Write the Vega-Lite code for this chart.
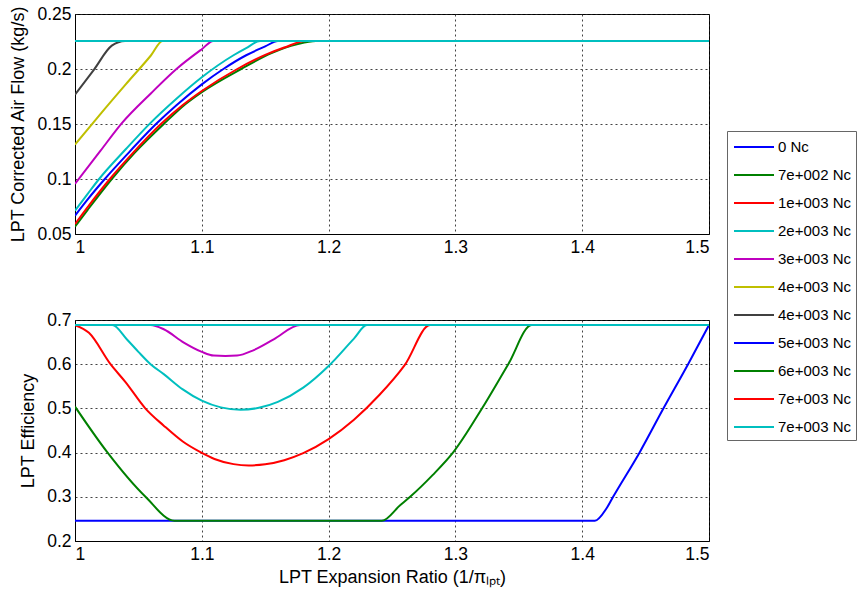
{
  "$schema": "https://vega.github.io/schema/vega-lite/v6.json",
  "background": "white",
  "padding": {"left": 9, "top": 4, "right": 2, "bottom": 2},
  "config": {
    "font": "Liberation Sans",
    "view": {"stroke": "black", "strokeWidth": 1},
    "axis": {
      "labelFont": "Liberation Sans", "labelFontSize": 17.5, "labelColor": "black",
      "titleFont": "Liberation Sans", "titleFontSize": 18, "titleFontWeight": "normal", "titleColor": "black",
      "domainColor": "black", "ticks": false, "labelPadding": 4, "titlePadding": 9,
      "gridColor": "#222222", "gridDash": [2, 3], "gridOpacity": 0.85, "gridWidth": 1
    },
    "legend": {
      "labelFont": "Liberation Sans", "labelFontSize": 15, "labelColor": "black"
    }
  },
  "datasets": {
    "d": [
      {"s": "s01", "p": "a", "x": 1.0, "y": 0.0667},
      {"s": "s01", "p": "a", "x": 1.01, "y": 0.0815},
      {"s": "s01", "p": "a", "x": 1.0235, "y": 0.1},
      {"s": "s01", "p": "a", "x": 1.04, "y": 0.121},
      {"s": "s01", "p": "a", "x": 1.0645, "y": 0.1506},
      {"s": "s01", "p": "a", "x": 1.08, "y": 0.167},
      {"s": "s01", "p": "a", "x": 1.1, "y": 0.186},
      {"s": "s01", "p": "a", "x": 1.117, "y": 0.2},
      {"s": "s01", "p": "a", "x": 1.135, "y": 0.2125},
      {"s": "s01", "p": "a", "x": 1.15, "y": 0.2205},
      {"s": "s01", "p": "a", "x": 1.16, "y": 0.2255},
      {"s": "s01", "p": "a", "x": 1.5, "y": 0.2255},
      {"s": "s02", "p": "a", "x": 1.0, "y": 0.0567},
      {"s": "s02", "p": "a", "x": 1.01, "y": 0.072},
      {"s": "s02", "p": "a", "x": 1.029, "y": 0.1},
      {"s": "s02", "p": "a", "x": 1.047, "y": 0.1238},
      {"s": "s02", "p": "a", "x": 1.0705, "y": 0.1506},
      {"s": "s02", "p": "a", "x": 1.087, "y": 0.168},
      {"s": "s02", "p": "a", "x": 1.1, "y": 0.179},
      {"s": "s02", "p": "a", "x": 1.131, "y": 0.2},
      {"s": "s02", "p": "a", "x": 1.155, "y": 0.2144},
      {"s": "s02", "p": "a", "x": 1.175, "y": 0.2224},
      {"s": "s02", "p": "a", "x": 1.19, "y": 0.2255},
      {"s": "s02", "p": "a", "x": 1.5, "y": 0.2255},
      {"s": "s03", "p": "a", "x": 1.0, "y": 0.059},
      {"s": "s03", "p": "a", "x": 1.01, "y": 0.0745},
      {"s": "s03", "p": "a", "x": 1.0275, "y": 0.1},
      {"s": "s03", "p": "a", "x": 1.045, "y": 0.1228},
      {"s": "s03", "p": "a", "x": 1.0684, "y": 0.1506},
      {"s": "s03", "p": "a", "x": 1.085, "y": 0.1672},
      {"s": "s03", "p": "a", "x": 1.1, "y": 0.18},
      {"s": "s03", "p": "a", "x": 1.128, "y": 0.2},
      {"s": "s03", "p": "a", "x": 1.15, "y": 0.2128},
      {"s": "s03", "p": "a", "x": 1.165, "y": 0.2195},
      {"s": "s03", "p": "a", "x": 1.182, "y": 0.2255},
      {"s": "s03", "p": "a", "x": 1.5, "y": 0.2255},
      {"s": "s04", "p": "a", "x": 1.0, "y": 0.0712},
      {"s": "s04", "p": "a", "x": 1.01, "y": 0.0865},
      {"s": "s04", "p": "a", "x": 1.019, "y": 0.1},
      {"s": "s04", "p": "a", "x": 1.04, "y": 0.127},
      {"s": "s04", "p": "a", "x": 1.0592, "y": 0.1506},
      {"s": "s04", "p": "a", "x": 1.08, "y": 0.173},
      {"s": "s04", "p": "a", "x": 1.1, "y": 0.1925},
      {"s": "s04", "p": "a", "x": 1.125, "y": 0.2125},
      {"s": "s04", "p": "a", "x": 1.135, "y": 0.219},
      {"s": "s04", "p": "a", "x": 1.146, "y": 0.2255},
      {"s": "s04", "p": "a", "x": 1.5, "y": 0.2255},
      {"s": "s05", "p": "a", "x": 1.0, "y": 0.0955},
      {"s": "s05", "p": "a", "x": 1.02, "y": 0.1255},
      {"s": "s05", "p": "a", "x": 1.0368, "y": 0.1506},
      {"s": "s05", "p": "a", "x": 1.06, "y": 0.178},
      {"s": "s05", "p": "a", "x": 1.08, "y": 0.2},
      {"s": "s05", "p": "a", "x": 1.1, "y": 0.218},
      {"s": "s05", "p": "a", "x": 1.109, "y": 0.2255},
      {"s": "s05", "p": "a", "x": 1.5, "y": 0.2255},
      {"s": "s06", "p": "a", "x": 1.0, "y": 0.1312},
      {"s": "s06", "p": "a", "x": 1.02, "y": 0.159},
      {"s": "s06", "p": "a", "x": 1.04, "y": 0.186},
      {"s": "s06", "p": "a", "x": 1.06, "y": 0.2125},
      {"s": "s06", "p": "a", "x": 1.069, "y": 0.2255},
      {"s": "s06", "p": "a", "x": 1.5, "y": 0.2255},
      {"s": "s07", "p": "a", "x": 1.0, "y": 0.1767},
      {"s": "s07", "p": "a", "x": 1.015, "y": 0.1995},
      {"s": "s07", "p": "a", "x": 1.029, "y": 0.2212},
      {"s": "s07", "p": "a", "x": 1.0395, "y": 0.2255},
      {"s": "s07", "p": "a", "x": 1.5, "y": 0.2255},
      {"s": "s08", "p": "a", "x": 1.0, "y": 0.2255},
      {"s": "s08", "p": "a", "x": 1.5, "y": 0.2255},
      {"s": "s09", "p": "a", "x": 1.0, "y": 0.2255},
      {"s": "s09", "p": "a", "x": 1.5, "y": 0.2255},
      {"s": "s10", "p": "a", "x": 1.0, "y": 0.2255},
      {"s": "s10", "p": "a", "x": 1.5, "y": 0.2255},
      {"s": "s11", "p": "a", "x": 1.0, "y": 0.2255},
      {"s": "s11", "p": "a", "x": 1.5, "y": 0.2255},

      {"s": "s01", "p": "b", "x": 1.0, "y": 0.2457},
      {"s": "s01", "p": "b", "x": 1.41, "y": 0.2457},
      {"s": "s01", "p": "b", "x": 1.4191, "y": 0.2734},
      {"s": "s01", "p": "b", "x": 1.4244, "y": 0.3},
      {"s": "s01", "p": "b", "x": 1.4454, "y": 0.401},
      {"s": "s01", "p": "b", "x": 1.4638, "y": 0.4986},
      {"s": "s01", "p": "b", "x": 1.4835, "y": 0.6},
      {"s": "s01", "p": "b", "x": 1.5, "y": 0.6885},
      {"s": "s02", "p": "b", "x": 1.0, "y": 0.504},
      {"s": "s02", "p": "b", "x": 1.0254, "y": 0.401},
      {"s": "s02", "p": "b", "x": 1.0556, "y": 0.3},
      {"s": "s02", "p": "b", "x": 1.0784, "y": 0.2457},
      {"s": "s02", "p": "b", "x": 1.242, "y": 0.2457},
      {"s": "s02", "p": "b", "x": 1.2564, "y": 0.2809},
      {"s": "s02", "p": "b", "x": 1.2643, "y": 0.3},
      {"s": "s02", "p": "b", "x": 1.282, "y": 0.349},
      {"s": "s02", "p": "b", "x": 1.2984, "y": 0.401},
      {"s": "s02", "p": "b", "x": 1.3207, "y": 0.4986},
      {"s": "s02", "p": "b", "x": 1.3417, "y": 0.6},
      {"s": "s02", "p": "b", "x": 1.3601, "y": 0.6885},
      {"s": "s02", "p": "b", "x": 1.5, "y": 0.6885},
      {"s": "s03", "p": "b", "x": 1.0, "y": 0.6885},
      {"s": "s03", "p": "b", "x": 1.011, "y": 0.671},
      {"s": "s03", "p": "b", "x": 1.028, "y": 0.6},
      {"s": "s03", "p": "b", "x": 1.04, "y": 0.559},
      {"s": "s03", "p": "b", "x": 1.0556, "y": 0.4996},
      {"s": "s03", "p": "b", "x": 1.07, "y": 0.461},
      {"s": "s03", "p": "b", "x": 1.085, "y": 0.425},
      {"s": "s03", "p": "b", "x": 1.0989, "y": 0.401},
      {"s": "s03", "p": "b", "x": 1.11, "y": 0.3856},
      {"s": "s03", "p": "b", "x": 1.125, "y": 0.3739},
      {"s": "s03", "p": "b", "x": 1.137, "y": 0.371},
      {"s": "s03", "p": "b", "x": 1.15, "y": 0.3735},
      {"s": "s03", "p": "b", "x": 1.165, "y": 0.3828},
      {"s": "s03", "p": "b", "x": 1.18, "y": 0.3987},
      {"s": "s03", "p": "b", "x": 1.2, "y": 0.4305},
      {"s": "s03", "p": "b", "x": 1.22, "y": 0.4743},
      {"s": "s03", "p": "b", "x": 1.24, "y": 0.5302},
      {"s": "s03", "p": "b", "x": 1.26, "y": 0.5979},
      {"s": "s03", "p": "b", "x": 1.28, "y": 0.6885},
      {"s": "s03", "p": "b", "x": 1.5, "y": 0.6885},
      {"s": "s04", "p": "b", "x": 1.0, "y": 0.6885},
      {"s": "s04", "p": "b", "x": 1.0294, "y": 0.6885},
      {"s": "s04", "p": "b", "x": 1.041, "y": 0.656},
      {"s": "s04", "p": "b", "x": 1.05, "y": 0.628},
      {"s": "s04", "p": "b", "x": 1.0596, "y": 0.6},
      {"s": "s04", "p": "b", "x": 1.07, "y": 0.5775},
      {"s": "s04", "p": "b", "x": 1.085, "y": 0.543},
      {"s": "s04", "p": "b", "x": 1.1, "y": 0.5175},
      {"s": "s04", "p": "b", "x": 1.115, "y": 0.5023},
      {"s": "s04", "p": "b", "x": 1.1305, "y": 0.497},
      {"s": "s04", "p": "b", "x": 1.145, "y": 0.5013},
      {"s": "s04", "p": "b", "x": 1.16, "y": 0.5148},
      {"s": "s04", "p": "b", "x": 1.18, "y": 0.547},
      {"s": "s04", "p": "b", "x": 1.2, "y": 0.596},
      {"s": "s04", "p": "b", "x": 1.22, "y": 0.658},
      {"s": "s04", "p": "b", "x": 1.2302, "y": 0.6885},
      {"s": "s04", "p": "b", "x": 1.5, "y": 0.6885},
      {"s": "s05", "p": "b", "x": 1.0, "y": 0.6885},
      {"s": "s05", "p": "b", "x": 1.0596, "y": 0.6885},
      {"s": "s05", "p": "b", "x": 1.07, "y": 0.679},
      {"s": "s05", "p": "b", "x": 1.0858, "y": 0.649},
      {"s": "s05", "p": "b", "x": 1.1, "y": 0.628},
      {"s": "s05", "p": "b", "x": 1.1094, "y": 0.6195},
      {"s": "s05", "p": "b", "x": 1.1186, "y": 0.6187},
      {"s": "s05", "p": "b", "x": 1.1278, "y": 0.6195},
      {"s": "s05", "p": "b", "x": 1.141, "y": 0.632},
      {"s": "s05", "p": "b", "x": 1.1567, "y": 0.6563},
      {"s": "s05", "p": "b", "x": 1.1776, "y": 0.6885},
      {"s": "s05", "p": "b", "x": 1.5, "y": 0.6885},
      {"s": "s06", "p": "b", "x": 1.0, "y": 0.6885},
      {"s": "s06", "p": "b", "x": 1.5, "y": 0.6885},
      {"s": "s07", "p": "b", "x": 1.0, "y": 0.6885},
      {"s": "s07", "p": "b", "x": 1.5, "y": 0.6885},
      {"s": "s08", "p": "b", "x": 1.0, "y": 0.6885},
      {"s": "s08", "p": "b", "x": 1.5, "y": 0.6885},
      {"s": "s09", "p": "b", "x": 1.0, "y": 0.6885},
      {"s": "s09", "p": "b", "x": 1.5, "y": 0.6885},
      {"s": "s10", "p": "b", "x": 1.0, "y": 0.6885},
      {"s": "s10", "p": "b", "x": 1.5, "y": 0.6885},
      {"s": "s11", "p": "b", "x": 1.0, "y": 0.6885},
      {"s": "s11", "p": "b", "x": 1.5, "y": 0.6885}
    ]
  },
  "spacing": 86,
  "bounds": "flush",
  "vconcat": [
    {
      "width": 634,
      "height": 220,
      "data": {"name": "d"},
      "transform": [{"filter": "datum.p === 'a'"}],
      "mark": {"type": "line", "strokeWidth": 2, "clip": true, "interpolate": "monotone"},
      "encoding": {
        "x": {"field": "x", "type": "quantitative", "scale": {"domain": [1, 1.5]},
              "axis": {"values": [1, 1.1, 1.2, 1.3, 1.4, 1.5], "format": "~g", "title": null}},
        "y": {"field": "y", "type": "quantitative", "scale": {"domain": [0.05, 0.25]},
              "axis": {"values": [0.05, 0.1, 0.15, 0.2, 0.25], "format": "~g", "title": "LPT Corrected Air Flow (kg/s)"}},
        "color": {"field": "s", "type": "nominal",
          "scale": {"domain": ["s01","s02","s03","s04","s05","s06","s07","s08","s09","s10","s11"],
                    "range": ["#0000FF","#008000","#FF0000","#00BFBF","#BF00BF","#BFBF00","#404040","#0000FF","#008000","#FF0000","#00BFBF"]},
          "legend": {
            "title": null, "orient": "none", "legendX": 652, "legendY": 117,
            "symbolType": "M-2,0H2", "symbolSize": 400, "symbolStrokeWidth": 2,
            "symbolOffset": 11, "labelOffset": 13,
            "labelFontSize": 15, "labelLimit": 200, "rowPadding": 9,
            "strokeColor": "#666666", "fillColor": "white", "padding": 5,
            "labelExpr": "['0 Nc','7e+002 Nc','1e+003 Nc','2e+003 Nc','3e+003 Nc','4e+003 Nc','4e+003 Nc','5e+003 Nc','6e+003 Nc','7e+003 Nc','7e+003 Nc'][indexof(['s01','s02','s03','s04','s05','s06','s07','s08','s09','s10','s11'], datum.value)]"
          }
        }
      }
    },
    {
      "width": 634,
      "height": 221,
      "data": {"name": "d"},
      "transform": [{"filter": "datum.p === 'b'"}],
      "mark": {"type": "line", "strokeWidth": 2, "clip": true, "interpolate": "monotone"},
      "encoding": {
        "x": {"field": "x", "type": "quantitative", "scale": {"domain": [1, 1.5]},
              "axis": {"values": [1, 1.1, 1.2, 1.3, 1.4, 1.5], "format": "~g", "title": "LPT Expansion Ratio (1/πₗₚₜ)", "titlePadding": 6}},
        "y": {"field": "y", "type": "quantitative", "scale": {"domain": [0.2, 0.7]},
              "axis": {"values": [0.2, 0.3, 0.4, 0.5, 0.6, 0.7], "format": "~g", "title": "LPT Efficiency"}},
        "color": {"field": "s", "type": "nominal"}
      }
    }
  ]
}
